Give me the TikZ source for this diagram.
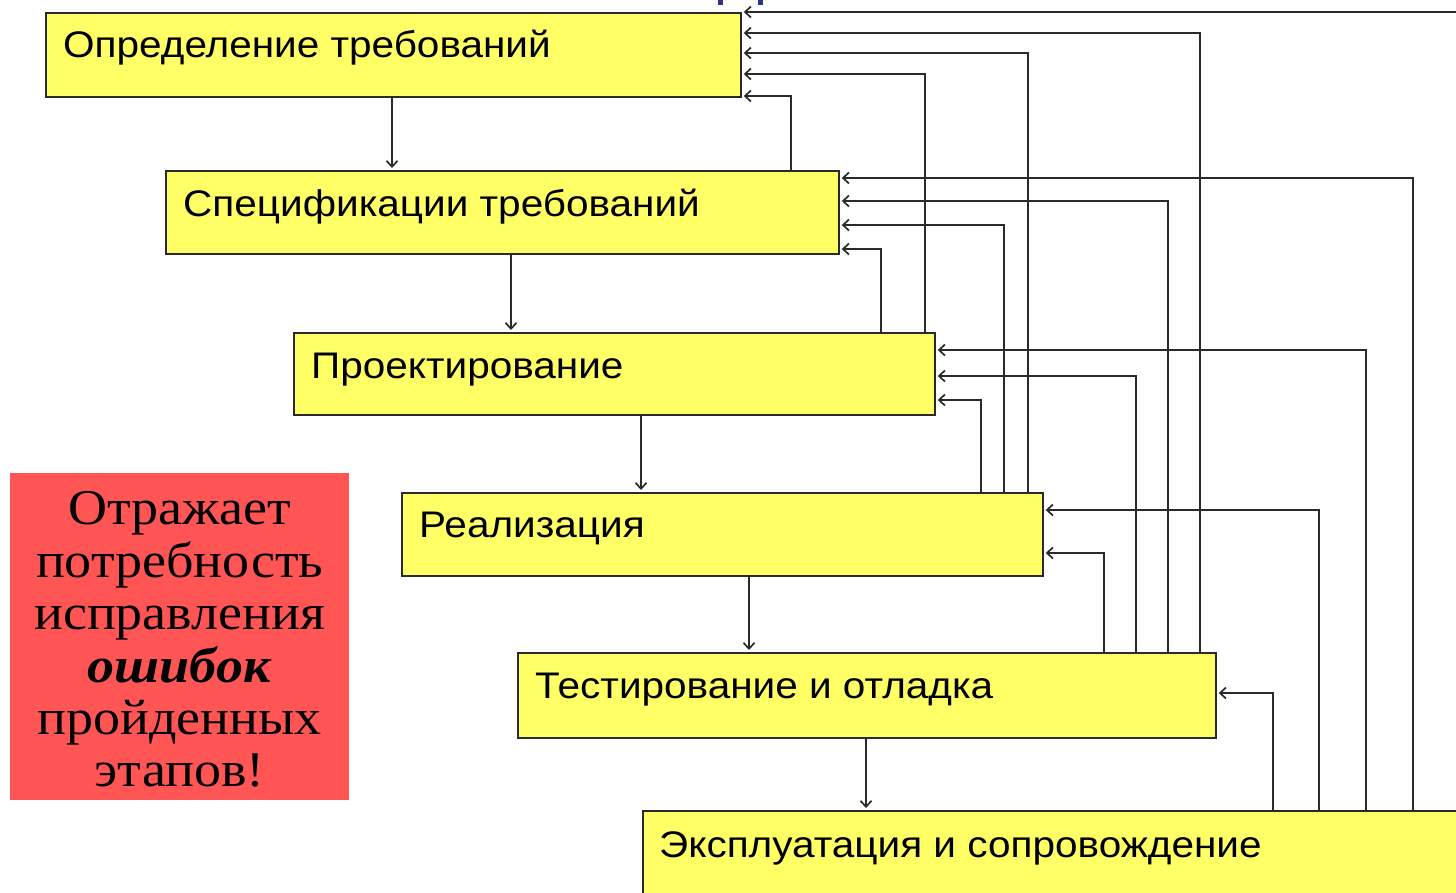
\documentclass[tikz,border=0pt]{standalone}
\usepackage{fontspec}
\setmainfont{Liberation Serif}
\setsansfont{Liberation Sans}
\newfontfamily\stagefont[FakeStretch=1.095]{Liberation Sans}
\newfontfamily\notefont[FakeStretch=1.08]{Liberation Serif}
\usetikzlibrary{arrows.meta,calc}
\definecolor{boxyellow}{HTML}{FFFF66}
\definecolor{notered}{HTML}{FF5555}
\definecolor{edge}{HTML}{2A2A2A}
\definecolor{titleblue}{HTML}{2E3192}
\begin{document}
\begin{tikzpicture}[x=1pt,y=-1pt,
  stage/.style={draw=edge, line width=1.7pt, fill=boxyellow, anchor=north west, inner sep=0pt},
  stagetext/.style={anchor=base west, font=\stagefont\fontsize{37}{40}\selectfont, inner sep=0pt},
  fb/.style={draw=edge, line width=1.7pt, shorten >=2pt, -{Straight Barb[length=6pt,width=11pt]}}]
\useasboundingbox (0,0) rectangle (1456,892);
\clip (0,0) rectangle (1456,892);
\fill[white] (0,0) rectangle (1456,892);
% title fragments
\fill[titleblue] (718,0) rectangle (723,5);
\fill[titleblue] (758,0) rectangle (763,5);
% stages
\node[stage, minimum width=695pt, minimum height=84pt] (b1) at (45,12) {};
\node[stage, minimum width=673pt, minimum height=83pt] (b2) at (165,170) {};
\node[stage, minimum width=641pt, minimum height=82pt] (b3) at (293,332) {};
\node[stage, minimum width=641pt, minimum height=83pt] (b4) at (401,492) {};
\node[stage, minimum width=698pt, minimum height=85pt] (b5) at (517,652) {};
\node[stage, minimum width=830pt, minimum height=100pt] (b6) at (642,810) {};
\node[stagetext] (t1) at ($(b1.north west)+(18,45)$) {Определение требований};
\node[stagetext] (t2) at ($(b2.north west)+(18,46)$) {Спецификации требований};
\node[stagetext] (t3) at ($(b3.north west)+(18,46)$) {Проектирование};
\node[stagetext] (t4) at ($(b4.north west)+(18,45)$) {Реализация};
\node[stagetext] (t5) at ($(b5.north west)+(18,46)$) {Тестирование и отладка};
\node[stagetext] (t6) at ($(b6.north west)+(17,47)$) {Эксплуатация и сопровождение};
% forward arrows
\draw[fb] (b1.south -| 392,0) -- (b2.north -| 392,0);
\draw[fb] (b2.south -| 511,0) -- (b3.north -| 511,0);
\draw[fb] (b3.south -| 641,0) -- (b4.north -| 641,0);
\draw[fb] (b4.south -| 749,0) -- (b5.north -| 749,0);
\draw[fb] (b5.south -| 866,0) -- (b6.north -| 866,0);
% feedback into b1
\draw[fb] (b6.north -| 1462,0) |- (b1.east |- 0,12);
\draw[fb] (b5.north -| 1200,0) |- (b1.east |- 0,33);
\draw[fb] (b4.north -| 1028,0) |- (b1.east |- 0,53);
\draw[fb] (b3.north -| 925,0) |- (b1.east |- 0,74);
\draw[fb] (b2.north -| 791,0) |- (b1.east |- 0,96);
% feedback into b2
\draw[fb] (b6.north -| 1413,0) |- (b2.east |- 0,178);
\draw[fb] (b5.north -| 1168,0) |- (b2.east |- 0,201);
\draw[fb] (b4.north -| 1004,0) |- (b2.east |- 0,225);
\draw[fb] (b3.north -| 881,0) |- (b2.east |- 0,249);
% feedback into b3
\draw[fb] (b6.north -| 1366,0) |- (b3.east |- 0,350);
\draw[fb] (b5.north -| 1136,0) |- (b3.east |- 0,376);
\draw[fb] (b4.north -| 981,0) |- (b3.east |- 0,400);
% feedback into b4
\draw[fb] (b6.north -| 1319,0) |- (b4.east |- 0,510);
\draw[fb] (b5.north -| 1104,0) |- (b4.east |- 0,553);
% feedback into b5
\draw[fb] (b6.north -| 1273,0) |- (b5.east |- 0,693);
% note
\node[fill=notered, minimum width=339pt, minimum height=327pt, anchor=north west, inner sep=0pt] (note) at (10,473) {};
\node[align=center, font=\notefont\fontsize{50}{52.4}\selectfont, inner sep=0pt] (notetext) at ($(note.center)+(0,3)$)
  {Отражает\\потребность\\исправления\\\textbf{\textit{ошибок}}\\пройденных\\этапов!};
\end{tikzpicture}
\end{document}
